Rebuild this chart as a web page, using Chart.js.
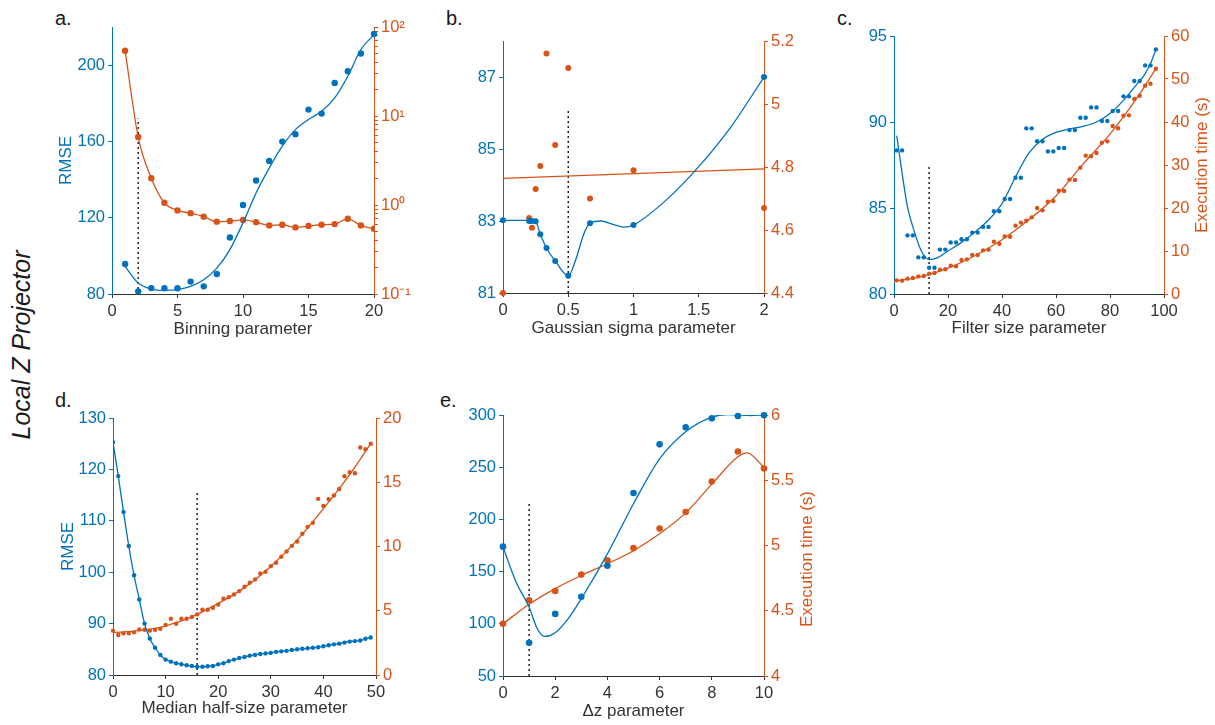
<!DOCTYPE html>
<html>
<head>
<meta charset="utf-8">
<script src="https://cdn.jsdelivr.net/npm/chart.js@4.4.0/dist/chart.umd.min.js"></script>
<style>
body{margin:0;background:#fff;width:1215px;height:725px;position:relative;overflow:hidden;font-family:"Liberation Sans",Arial,Helvetica,sans-serif}
canvas{position:absolute}
.tag{position:absolute;font-size:20px;line-height:20px;color:#1a1a1a}
#side{position:absolute;left:-79px;top:332px;width:200px;text-align:center;font-size:25px;line-height:26px;font-style:italic;color:#1a1a1a;transform:rotate(-90deg)}
</style>
</head>
<body>
<div class="tag" style="left:55px;top:8px">a.</div>
<div class="tag" style="left:446px;top:8px">b.</div>
<div class="tag" style="left:837px;top:8px">c.</div>
<div class="tag" style="left:55px;top:390px">d.</div>
<div class="tag" style="left:440px;top:390px">e.</div>
<div id="side">Local Z Projector</div>
<canvas id="ca"></canvas>
<canvas id="cb"></canvas>
<canvas id="cc"></canvas>
<canvas id="cd"></canvas>
<canvas id="ce"></canvas>
<script>
const BLUE = '#0072BD', ORANGE = '#D95319', INK = '#333333';
Chart.defaults.font.family = '"Liberation Sans", Arial, Helvetica, sans-serif';
Chart.defaults.font.size = 16.5;

// a. binning
const binX = [1,2,3,4,5,6,7,8,9,10,11,12,13,14,15,16,17,18,19,20];
const binRmse = [95.7,81.4,83.1,83.0,83.0,86.5,84.0,90.5,109.6,126.7,139.5,149.8,159.9,163.8,176.7,174.6,190.7,196.8,206.1,216.3];
const binTime = [54,5.8,2.0,1.06,0.87,0.81,0.74,0.65,0.66,0.68,0.64,0.59,0.60,0.56,0.58,0.60,0.61,0.70,0.59,0.54];
const binFitX = [1,2,3,4,5,6,7,8,9,10,11,12,13,14,15,16,17,18,19,20];
const binFitY = [94.5,85.8,82.6,81.9,82.3,84,87.5,93.6,103.3,117.3,133,146,157.5,166.2,171.5,175.8,182.8,194.2,208.2,216];
const binBest = [2, 172];

// b. gaussian sigma
const sigX = [0,0.2,0.2222,0.25,0.2857,0.3333,0.4,0.5,0.6667,1,2];
const sigRmse = [83.02,83.0,83.0,82.99,82.63,82.25,81.89,81.48,82.94,82.89,87.0];
const sigTime = [4.40,4.638,4.607,4.73,4.803,5.16,4.87,5.114,4.70,4.79,4.67];
const sigFitX = [0,0.2,0.2222,0.25,0.2857,0.3333,0.4,0.5,0.56,0.615,0.6667,0.75,0.85,0.93,1,1.25,1.5,1.75,2];
const sigFitY = [83.02,83.02,83.01,82.99,82.63,82.25,81.89,81.48,81.95,82.6,82.94,83.0,82.9,82.83,82.89,83.58,84.51,85.63,87.0];
const sigTimeFitX = [0,2];
const sigTimeFitY = [4.764,4.794];
const sigBest = [0.5, 86.1];

// c. filter size
const filX = [1,3,5,7,9,11,13,15,17,19,21,23,25,27,29,31,33,35,37,39,41,43,45,47,49,51,53,55,57,59,61,63,65,67,69,71,73,75,77,79,81,83,85,87,89,91,93,95,97];
const filRmse = [88.35,88.35,83.41,83.41,82.13,82.13,81.53,81.53,82.58,82.58,83.0,83.0,83.18,83.18,83.57,83.57,83.9,83.9,84.81,84.81,85.52,85.52,86.76,86.76,89.63,89.63,88.88,88.88,88.29,88.29,88.49,88.49,89.53,89.53,90.25,90.25,90.85,90.85,90.06,90.06,90.64,90.64,91.49,91.49,92.38,92.38,93.29,93.29,94.22];
const filTime = [3.18,3.1,3.57,3.72,4.1,4.19,4.73,4.88,5.66,5.74,6.59,6.43,7.9,8.06,9.07,9.07,10.15,10.31,12.17,11.7,13.4,13.33,15.9,16.6,17.05,17.83,20.0,19.46,21.47,21.63,24.03,23.95,26.59,26.51,29.38,32.17,32.02,32.79,35.19,35.5,39.07,38.53,41.47,41.55,45.35,46.12,48.45,48.91,52.4];
const filFitX = [1,5,7,10,13,16,20,25,30,35,40,45,50,55,60,65,70,75,80,85,90,93,95,97];
const filFitY = [89.2,85.06,83.9,82.54,82.0,82.1,82.5,83.0,83.6,84.3,85.25,86.8,88.2,89.0,89.4,89.6,89.75,90.0,90.5,91.26,92.2,92.8,93.4,94.2];
const filTimeFitX = [0,10,20,30,40,50,60,70,80,90,97];
const filTimeFitY = [3.0,4.0,6.0,8.9,12.6,17.3,22.8,30.2,37.2,45.6,52.4];
const filBest = [13, 87.5];

// d. median half-size
const medX = [0,1,2,3,4,5,6,7,8,9,10,11,12,13,14,15,16,17,18,19,20,21,22,23,24,25,26,27,28,29,30,31,32,33,34,35,36,37,38,39,40,41,42,43,44,45,46,47,48,49];
const medRmse = [125.3,118.7,111.7,105.1,99.4,94.7,90.0,87.1,85.3,83.9,83.0,82.6,82.3,82.1,81.9,81.75,81.6,81.6,81.7,81.75,82.07,82.3,82.7,83.0,83.3,83.5,83.76,83.9,84.1,84.2,84.3,84.5,84.6,84.7,84.86,85.0,85.1,85.2,85.3,85.4,85.6,85.8,85.96,86.1,86.3,86.5,86.6,86.7,87.06,87.3];
const medTime = [3.45,3.11,3.24,3.24,3.32,3.55,3.52,3.45,3.52,3.6,3.89,4.38,3.99,4.38,4.38,4.51,4.72,5.08,5.08,5.23,5.49,5.93,6.06,6.27,6.53,6.87,7.18,7.44,7.9,8.03,8.47,8.73,9.2,9.61,10.05,10.39,10.99,11.53,11.84,13.71,13.16,13.68,13.97,14.48,15.47,15.78,15.7,17.7,17.57,18.0];
const medTimeFitX = [0,5,10,15,20,25,30,35,40,45,49];
const medTimeFitY = [3.3,3.45,3.83,4.53,5.57,6.8,8.45,10.5,12.95,15.6,18.0];
const medBest = [16, 115.9];

// e. delta z
const dzX = [0,1,2,3,4,5,6,7,8,9,10];
const dzRmse = [173.9,81.9,109.5,125.8,155.6,225.3,271.9,288.2,296.8,299.0,299.7];
const dzTime = [4.40,4.58,4.651,4.777,4.887,4.98,5.13,5.257,5.49,5.72,5.59];
const dzFitX = [0,0.5,1,1.3,1.6,2,2.5,3,4,5,6,7,8,8.6,9,9.5,10];
const dzFitY = [173.6,140,116,96,87.9,91.5,105,124,167,215,258,284,298,300.5,300,299.5,300];
const dzTimeFitX = [0,1,2,3,4,5,6,7,8,9,9.35,10];
const dzTimeFitY = [4.40,4.55,4.67,4.77,4.86,4.96,5.09,5.25,5.47,5.68,5.71,5.60];
const dzBest = [1, 216.7];

// tick positions
const logTicks = [0.1,0.2,0.3,0.4,0.5,0.6,0.7,0.8,0.9,1,2,3,4,5,6,7,8,9,10,20,30,40,50,60,70,80,90,100];
const logLabels = {0.1:'10\u207B\u00B9', 1:'10\u2070', 10:'10\u00B9', 100:'10\u00B2'};

function pts(xs, ys) { return xs.map((x, i) => ({x: x, y: ys[i]})); }

function dots(xs, ys, color, r, axis) {
  return {data: pts(xs, ys), yAxisID: axis, showLine: false, pointRadius: r,
    pointBackgroundColor: color, pointBorderWidth: 0, clip: false};
}
function curve(xs, ys, color, axis) {
  return {data: pts(xs, ys), yAxisID: axis, showLine: true, pointRadius: 0,
    borderColor: color, borderWidth: 1.3, cubicInterpolationMode: 'monotone'};
}
function guide(best, min) {
  return {data: [{x: best[0], y: min}, {x: best[0], y: best[1]}], yAxisID: 'y', showLine: true,
    pointRadius: 0, borderColor: '#111', borderWidth: 1.4, borderDash: [2, 3]};
}

function axis(pos, color, min, max, ticks, size, title, opts) {
  opts = opts || {};
  return {
    type: opts.type || 'linear', position: pos, min: min, max: max,
    afterBuildTicks: s => { s.ticks = ticks.map(v => ({value: v})); },
    afterFit: s => { if (pos === 'bottom') s.height = size; else s.width = size; },
    grid: {display: true, drawOnChartArea: false, drawTicks: true, tickLength: 4, color: color},
    border: {display: true, color: color, width: 1},
    ticks: {color: pos === 'bottom' ? INK : color, padding: pos === 'bottom' ? 4 : 3, autoSkip: false, maxRotation: 0,
      callback: opts.labels || (v => String(v))},
    title: {display: !!title, text: title || '', color: pos === 'bottom' ? INK : color,
      font: {size: 17}, padding: {top: 4, bottom: 4}}
  };
}

// right axis title reads bottom-to-top like the left one
const rightTitle = {
  id: 'rightTitle',
  afterDraw(chart, args, o) {
    if (!o.text) return;
    const s = chart.scales.y1, ctx = chart.ctx;
    ctx.save();
    ctx.translate(s.left + o.dx, o.cy - parseFloat(chart.canvas.style.top));
    ctx.rotate(-Math.PI / 2);
    ctx.font = '17px "Liberation Sans", Arial, sans-serif';
    ctx.fillStyle = ORANGE;
    ctx.textAlign = 'center';
    ctx.textBaseline = 'middle';
    ctx.fillText(o.text, 0, 0);
    ctx.restore();
  }
};

function panel(id, g, scales, datasets, rt) {
  const cv = document.getElementById(id);
  cv.width = (g.R - g.L) + g.wl + g.wr;
  cv.height = (g.B - g.T) + 20 + g.hx;
  cv.style.left = (g.L - g.wl) + 'px';
  cv.style.top = (g.T - 20) + 'px';
  new Chart(cv, {
    type: 'scatter',
    data: {datasets: datasets},
    options: {
      responsive: false, animation: false,
      layout: {padding: {top: 20, left: 0, right: 0, bottom: 0}},
      plugins: {legend: {display: false}, tooltip: {enabled: false}, rightTitle: rt || {}},
      scales: scales
    },
    plugins: [rightTitle]
  });
}

// a.
panel('ca', {L: 112, R: 374, T: 27, B: 294, wl: 60, wr: 46, hx: 50}, {
  x: axis('bottom', INK, 0, 20, [0,5,10,15,20], 50, 'Binning parameter'),
  y: axis('left', BLUE, 80, 220, [80,120,160,200], 60, 'RMSE'),
  y1: axis('right', ORANGE, 0.1, 100, logTicks, 46, '', {type: 'logarithmic', labels: v => logLabels[v] || ''})
}, [
  curve(binFitX, binFitY, BLUE, 'y'),
  dots(binX, binRmse, BLUE, 3.2, 'y'),
  Object.assign(curve(binX, binTime, ORANGE, 'y1'), {pointRadius: 3.2, pointBackgroundColor: ORANGE, pointBorderWidth: 0}),
  guide(binBest, 80)
]);

// b.
panel('cb', {L: 503, R: 764, T: 41, B: 293, wl: 50, wr: 46, hx: 50}, {
  x: axis('bottom', INK, 0, 2, [0,0.5,1,1.5,2], 50, 'Gaussian sigma parameter'),
  y: axis('left', BLUE, 81, 88, [81,83,85,87], 50, ''),
  y1: axis('right', ORANGE, 4.4, 5.2, [4.4,4.6,4.8,5,5.2], 46, '')
}, [
  curve(sigFitX, sigFitY, BLUE, 'y'),
  dots(sigX, sigRmse, BLUE, 3, 'y'),
  curve(sigTimeFitX, sigTimeFitY, ORANGE, 'y1'),
  dots(sigX, sigTime, ORANGE, 3, 'y1'),
  guide(sigBest, 81)
]);

// c.
panel('cc', {L: 894, R: 1164, T: 36, B: 294, wl: 50, wr: 51, hx: 49}, {
  x: axis('bottom', INK, 0, 100, [0,20,40,60,80,100], 49, 'Filter size parameter'),
  y: axis('left', BLUE, 80, 95, [80,85,90,95], 50, ''),
  y1: axis('right', ORANGE, 0, 60, [0,10,20,30,40,50,60], 51, '')
}, [
  curve(filFitX, filFitY, BLUE, 'y'),
  dots(filX, filRmse, BLUE, 2.2, 'y'),
  curve(filTimeFitX, filTimeFitY, ORANGE, 'y1'),
  dots(filX, filTime, ORANGE, 2.2, 'y1'),
  guide(filBest, 80)
], {text: 'Execution time (s)', dx: 38, cy: 165});

// d.
panel('cd', {L: 113, R: 376, T: 418, B: 675, wl: 59, wr: 40, hx: 48}, {
  x: axis('bottom', INK, 0, 50, [0,10,20,30,40,50], 48, 'Median half-size parameter'),
  y: axis('left', BLUE, 80, 130, [80,90,100,110,120,130], 59, 'RMSE'),
  y1: axis('right', ORANGE, 0, 20, [0,5,10,15,20], 40, '')
}, [
  Object.assign(curve(medX, medRmse, BLUE, 'y'), {pointRadius: 2.2, pointBackgroundColor: BLUE, pointBorderWidth: 0}),
  curve(medTimeFitX, medTimeFitY, ORANGE, 'y1'),
  dots(medX, medTime, ORANGE, 2.2, 'y1'),
  guide(medBest, 80)
]);

// e.
panel('ce', {L: 503, R: 764, T: 415, B: 676, wl: 50, wr: 55, hx: 50}, {
  x: axis('bottom', INK, 0, 10, [0,2,4,6,8,10], 50, '\u0394z parameter'),
  y: axis('left', BLUE, 50, 300, [50,100,150,200,250,300], 50, ''),
  y1: axis('right', ORANGE, 4, 6, [4,4.5,5,5.5,6], 55, '')
}, [
  curve(dzFitX, dzFitY, BLUE, 'y'),
  dots(dzX, dzRmse, BLUE, 3.3, 'y'),
  curve(dzTimeFitX, dzTimeFitY, ORANGE, 'y1'),
  dots(dzX, dzTime, ORANGE, 3.3, 'y1'),
  guide(dzBest, 50)
], {text: 'Execution time (s)', dx: 43, cy: 559});
</script>
</body>
</html>
